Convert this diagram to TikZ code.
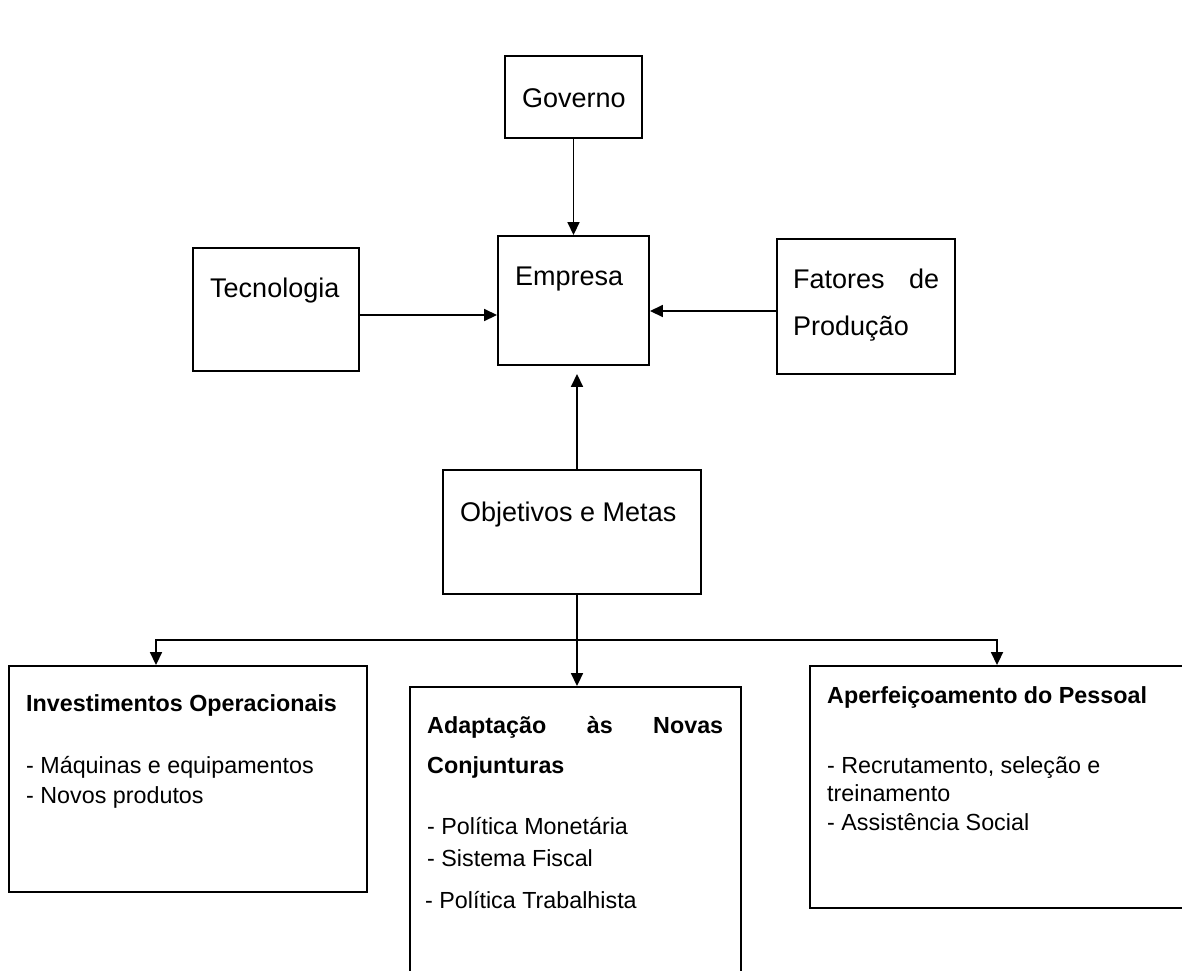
\documentclass[tikz,border=0pt]{standalone}
\usepackage{fontspec}
\setmainfont{Liberation Sans}
\usetikzlibrary{arrows.meta}
\begin{document}
\begin{tikzpicture}[x=1pt,y=-1pt,
  box/.style={draw=black,line width=1.9pt,inner sep=0pt,fill=none},
  arr/.style={line width=1.7pt,-{Triangle[length=13pt,width=12pt]}},
  plain/.style={line width=1.7pt},
  big/.style={inner sep=0pt,font=\fontsize{27}{32}\selectfont},
  small/.style={inner sep=0pt,font=\fontsize{23.3}{28}\selectfont},
  smallb/.style={inner sep=0pt,font=\fontsize{23.3}{28}\selectfont\bfseries}]
\clip (0,0) rectangle (1182,970);
\fill[white] (0,0) rectangle (1182,970);
% boxes
\node[box,minimum width=137pt,minimum height=82pt] (gov) at (573.5,97) {};
\node[box,minimum width=151pt,minimum height=129pt] (emp) at (573.5,300.5) {};
\node[box,minimum width=166pt,minimum height=123pt] (tec) at (276,309.5) {};
\node[box,minimum width=178pt,minimum height=135pt] (fat) at (866,306.5) {};
\node[box,minimum width=258pt,minimum height=124pt] (obj) at (572,532) {};
\node[box,minimum width=358pt,minimum height=226pt] (inv) at (188,779) {};
\node[box,minimum width=331pt,minimum height=340pt] (ada) at (575.5,857) {};
\node[box,minimum width=400pt,minimum height=242pt] (ape) at (1010,787) {};
% texts
\node[big,anchor=base west] (tgov) at (522,107) {Governo};
\node[big,anchor=base west] (temp) at (515,285) {Empresa};
\node[big,anchor=base west] (ttec) at (210,297) {Tecnologia};
\node[big,anchor=base west] (tfat1) at (793,288) {\hbox to 146pt{Fatores\hfill de}};
\node[big,anchor=base west] (tfat2) at (793,335) {Produção};
\node[big,anchor=base west] (tobj) at (460,521) {Objetivos e Metas};
\node[smallb,anchor=base west] (tinv1) at (26,711) {Investimentos Operacionais};
\node[small,anchor=base west] (tinv2) at (26,773) {- Máquinas e equipamentos};
\node[small,anchor=base west] (tinv3) at (26,803) {- Novos produtos};
\node[smallb,anchor=base west] (tada1) at (427,733) {\hbox to 296pt{Adaptação\hfill às\hfill Novas}};
\node[smallb,anchor=base west] (tada2) at (427,773) {Conjunturas};
\node[small,anchor=base west] (tada3) at (427,834) {- Política Monetária};
\node[small,anchor=base west] (tada4) at (427,866) {- Sistema Fiscal};
\node[small,anchor=base west] (tada5) at (425,908) {- Política Trabalhista};
\node[smallb,anchor=base west] (tape1) at (827,703) {Aperfeiçoamento do Pessoal};
\node[small,anchor=base west] (tape2) at (827,773) {- Recrutamento, seleção e};
\node[small,anchor=base west] (tape3) at (827,801) {treinamento};
\node[small,anchor=base west] (tape4) at (827,830) {- Assistência Social};
% connectors
\draw[arr] (gov.south) -- (emp.north);
\draw[arr] (tec.east |- 0,315) -- (emp.west |- 0,315);
\draw[arr] (fat.west |- 0,311) -- (emp.east |- 0,311);
\draw[arr] (obj.north -| 577,0) -- ([yshift=-8pt]emp.south -| 577,0);
\coordinate (split) at (577,640);
\draw[plain] (obj.south -| 577,0) -- (split);
\draw[arr] (split) -- (ada.north -| 577,0);
\draw[arr] (split) -| (inv.north -| 156,0);
\draw[arr] (split) -| (ape.north -| 997,0);
\end{tikzpicture}
\end{document}
